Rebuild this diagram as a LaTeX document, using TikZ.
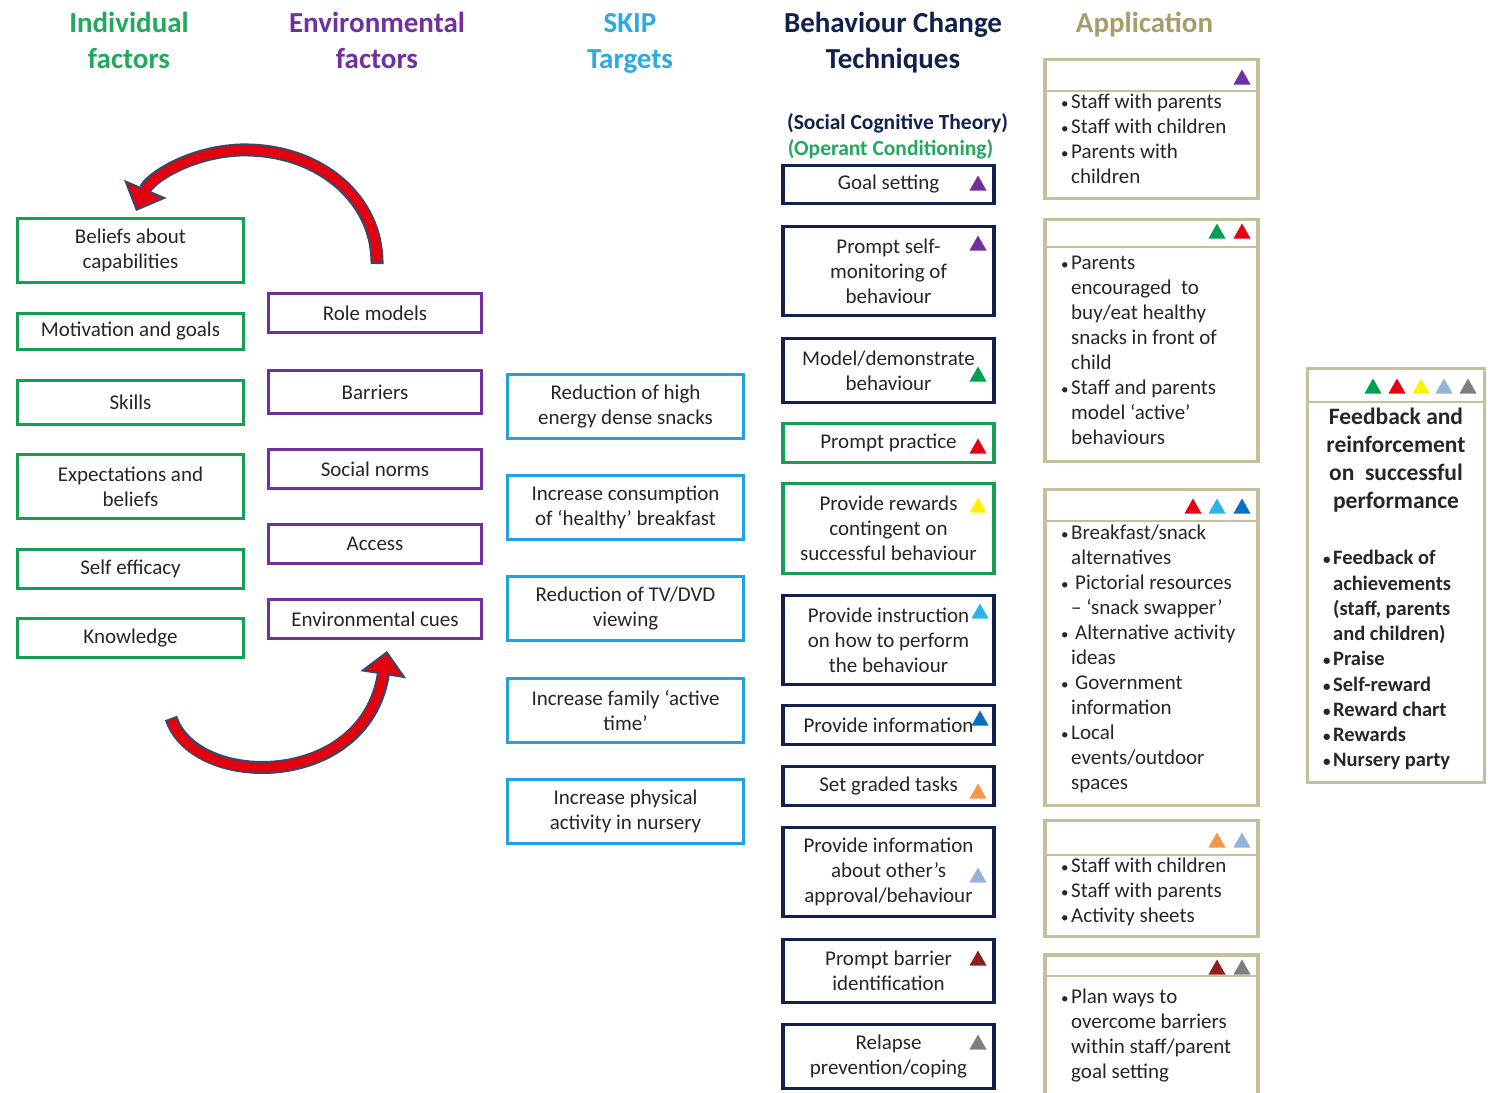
\documentclass[tikz,border=0pt]{standalone}
\usepackage{fontspec}
\setmainfont{Carlito}
\usetikzlibrary{arrows.meta}

% palette
\definecolor{cgreen}{HTML}{13A052}
\definecolor{cgreenhd}{HTML}{22A95E}
\definecolor{cpurple}{HTML}{7030A0}
\definecolor{cskip}{HTML}{22A2DC}
\definecolor{cskiphd}{HTML}{2CABE2}
\definecolor{cnavy}{HTML}{11204D}
\definecolor{ctan}{HTML}{C6BF9B}
\definecolor{ctanhd}{HTML}{A69E68}
\definecolor{txt}{HTML}{262626}
\definecolor{arrowred}{HTML}{E3000F}
\definecolor{arrowedge}{HTML}{3A4868}
% marker colours
\definecolor{tpurple}{HTML}{7030A0}
\definecolor{tgreen}{HTML}{00A050}
\definecolor{tred}{HTML}{E80012}
\definecolor{tyellow}{HTML}{FFF200}
\definecolor{tcyan}{HTML}{2DB4E8}
\definecolor{tblue}{HTML}{0A70BE}
\definecolor{torange}{HTML}{F79646}
\definecolor{tsteel}{HTML}{95B3D7}
\definecolor{tdark}{HTML}{8E2020}
\definecolor{tgray}{HTML}{7F7F7F}

\newcommand\txtfont{\fontsize{21pt}{25pt}\selectfont}
\newcommand\hdfont{\fontsize{29pt}{36pt}\selectfont\bfseries}
\newcommand\bl{\strut\makebox[12pt][l]{\hspace{2pt}{\fontsize{15pt}{15pt}\selectfont •}}}
\newcommand\cl{\strut\hspace*{12pt}}

\tikzset{
  box/.style={draw, rectangle, line width=3pt, fill=white, align=center,
    inner sep=2pt, font=\txtfont, text=txt},
  indbox/.style={box, draw=cgreen, minimum width=226pt},
  envbox/.style={box, draw=cpurple, minimum width=213pt, minimum height=39pt},
  skipbox/.style={box, draw=cskip, minimum width=236pt, minimum height=64pt},
  bctbox/.style={box, draw=cnavy, line width=3.5pt, minimum width=211pt},
  bctgreen/.style={bctbox, draw=cgreen},
  appbox/.style={draw=ctan, rectangle, line width=3.5pt, fill=white, minimum width=213pt},
  sepline/.style={draw=ctan, line width=2pt},
  hd/.style={anchor=north, align=center, font=\hdfont, inner sep=0pt},
  apptext/.style={anchor=north west, align=left, inner sep=0pt, font=\txtfont, text=txt},
  fbtext/.style={anchor=north west, align=left, inner sep=0pt,
    font=\fontsize{20.5pt}{25.25pt}\selectfont\bfseries, text=txt},
  tri/.pic={\fill[#1] (-8.5,7.5) -- (8.5,7.5) -- (0,-7.5) -- cycle;},
  cyclearrow/.style={arrowedge, line width=13pt,
    -{Triangle[width=46pt,length=24pt,fill=arrowred,line width=2pt]}},
  cyclefill/.style={arrowred, line width=9pt, shorten >=21pt, shorten <=2pt},
}

\begin{document}
\begin{tikzpicture}[x=1pt,y=-1pt]
\useasboundingbox[fill=white] (0,0) rectangle (1488,1092);

% column headings
\node[hd, text=cgreenhd] (hInd) at (129,7) {\strut Individual\\factors};
\node[hd, text=cpurple] (hEnv) at (377,7) {\strut Environmental\\factors};
\node[hd, text=cskiphd] (hSkip) at (630,7) {\strut SKIP\\Targets};
\node[hd, text=cnavy] (hBct) at (893,7) {\strut Behaviour Change\\Techniques};
\node[hd, text=ctanhd] (hApp) at (1144.5,7) {\strut Application};
\node[anchor=base, inner sep=0pt, text=cnavy, font=\fontsize{21.5pt}{27pt}\selectfont\bfseries]
  (sct) at (897.5,129) {(Social Cognitive Theory)};
\node[anchor=base, inner sep=0pt, text=cgreenhd, font=\fontsize{21.5pt}{27pt}\selectfont\bfseries]
  (oc) at (890.5,155.5) {(Operant Conditioning)};

% individual factors
\node[indbox, minimum height=64pt] (i1) at (130.5,250.5) {Beliefs about\\capabilities};
\node[indbox, minimum height=36pt] (i2) at (130.5,331.5) {Motivation and goals};
\node[indbox, minimum height=44pt] (i3) at (130.5,402.5) {Skills};
\node[indbox, minimum height=64pt] (i4) at (130.5,486.5) {Expectations and\\beliefs};
\node[indbox, minimum height=39pt] (i5) at (130.5,569) {Self efficacy};
\node[indbox, minimum height=39pt] (i6) at (130.5,638) {Knowledge};

% environmental factors
\node[envbox] (e1) at (375,313) {Role models};
\node[envbox, minimum height=43pt] (e2) at (375,392) {Barriers};
\node[envbox] (e3) at (375,469) {Social norms};
\node[envbox] (e4) at (375,544) {Access};
\node[envbox] (e5) at (375,619) {Environmental cues};

% SKIP targets
\node[skipbox] (s1) at (625.5,406.5) {Reduction of high\\energy dense snacks};
\node[skipbox] (s2) at (625.5,507.5) {Increase consumption\\of ‘healthy’ breakfast};
\node[skipbox] (s3) at (625.5,608.5) {Reduction of TV/DVD\\viewing};
\node[skipbox] (s4) at (625.5,710) {Increase family ‘active\\time’};
\node[skipbox] (s5) at (625.5,811.5) {Increase physical\\activity in nursery};

% behaviour change techniques
\node[bctbox, minimum height=38pt] (b1) at (888.5,184.5) {Goal setting};
\node[bctbox, minimum height=89pt] (b2) at (888.5,271) {Prompt self-\\monitoring of\\behaviour};
\node[bctbox, minimum height=64pt] (b3) at (888.5,370.5) {Model/demonstrate\\behaviour};
\node[bctgreen, minimum height=39pt] (b4) at (888.5,443) {Prompt practice};
\node[bctgreen, minimum height=90pt] (b5) at (888.5,528.5) {Provide rewards\\contingent on\\successful behaviour};
\node[bctbox, minimum height=89pt] (b6) at (888.5,640) {Provide instruction\\on how to perform\\the behaviour};
\node[bctbox, minimum height=39pt] (b7) at (888.5,725) {Provide information};
\node[bctbox, minimum height=39pt] (b8) at (888.5,786) {Set graded tasks};
\node[bctbox, minimum height=89pt] (b9) at (888.5,872) {Provide information\\about other’s\\approval/behaviour};
\node[bctbox, minimum height=63pt] (b10) at (888.5,971) {Prompt barrier\\identification};
\node[bctbox, minimum height=64pt] (b11) at (888.5,1056.5) {Relapse\\prevention/coping};

% technique markers
\pic at (978,183) {tri=tpurple};
\pic at (978,243) {tri=tpurple};
\pic at (978,374) {tri=tgreen};
\pic at (978,446) {tri=tred};
\pic at (978,505) {tri=tyellow};
\pic at (980,611) {tri=tcyan};
\pic at (980,718) {tri=tblue};
\pic at (978,791) {tri=torange};
\pic at (978,875) {tri=tsteel};
\pic at (978,958) {tri=tdark};
\pic at (978,1042) {tri=tgray};

% application boxes
\node[appbox, minimum height=139pt] (a1) at (1151.5,129) {};
\node[appbox, minimum height=242pt] (a2) at (1151.5,340.5) {};
\node[appbox, minimum height=316pt] (a3) at (1151.5,647.5) {};
\node[appbox, minimum height=116pt] (a4) at (1151.5,878.5) {};
\node[appbox, minimum height=144pt] (a5) at (1151.5,1027) {};
\node[appbox, minimum width=177pt, minimum height=414pt] (fb) at (1396,575.5) {};

\coordinate (r1) at (1151.5,91);
\coordinate (r2) at (1151.5,247);
\coordinate (r3) at (1151.5,521);
\coordinate (r4) at (1151.5,855);
\coordinate (r5) at (1151.5,976);
\coordinate (rf) at (1396,402);
\draw[sepline] (r1 -| a1.west) -- (r1 -| a1.east);
\draw[sepline] (r2 -| a2.west) -- (r2 -| a2.east);
\draw[sepline] (r3 -| a3.west) -- (r3 -| a3.east);
\draw[sepline] (r4 -| a4.west) -- (r4 -| a4.east);
\draw[sepline] (r5 -| a5.west) -- (r5 -| a5.east);
\draw[sepline] (rf -| fb.west) -- (rf -| fb.east);

% application markers
\pic at (1242,77) {tri=tpurple};
\pic at (1217,231) {tri=tgreen};
\pic at (1242,231) {tri=tred};
\pic at (1193,506) {tri=tred};
\pic at (1217,506) {tri=tcyan};
\pic at (1242,506) {tri=tblue};
\pic at (1217,840) {tri=torange};
\pic at (1242,840) {tri=tsteel};
\pic at (1217,967) {tri=tdark};
\pic at (1242,967) {tri=tgray};
\pic at (1373,386) {tri=tgreen};
\pic at (1397,386) {tri=tred};
\pic at (1421,386) {tri=tyellow};
\pic at (1444,386) {tri=tsteel};
\pic at (1468,386) {tri=tgray};

% application texts
\node[apptext] (t1) at (1059,91) {\bl Staff with parents\\\bl Staff with children\\\bl Parents with\\\cl children};
\node[apptext] (t2) at (1059,252) {\bl Parents\\\cl encouraged\ \ to\\\cl buy/eat healthy\\\cl snacks in front of\\\cl child\\\bl Staff and parents\\\cl model ‘active’\\\cl behaviours};
\node[apptext] (t3) at (1059,522) {\bl Breakfast/snack\\\cl alternatives\\\bl\hspace{4pt}Pictorial resources\\\cl – ‘snack swapper’\\\bl\hspace{4pt}Alternative activity\\\cl ideas\\\bl\hspace{4pt}Government\\\cl information\\\bl Local\\\cl events/outdoor\\\cl spaces};
\node[apptext] (t4) at (1059,855) {\bl Staff with children\\\bl Staff with parents\\\bl Activity sheets};
\node[apptext] (t5) at (1059,986) {\bl Plan ways to\\\cl overcome barriers\\\cl within staff/parent\\\cl goal setting};

% feedback box texts
\node[anchor=north, align=center, inner sep=0pt, text=txt,
  font=\fontsize{23.5pt}{28pt}\selectfont\bfseries] (ft) at (1396,405)
  {\strut Feedback and\\reinforcement\\on\ \ successful\\performance};
\node[fbtext] (fl) at (1321,547) {\bl Feedback of\\\cl achievements\\\cl (staff, parents\\\cl and children)\\\bl Praise\\\bl Self-reward\\\bl Reward chart\\\bl Rewards\\\bl Nursery party};

% cycle arrows between the factor columns
\coordinate (ca1) at (377,264);
\coordinate (ca2) at (136,211);
\coordinate (cb1) at (171,718);
\coordinate (cb2) at (387,651);
\draw[cyclearrow] (ca1) .. controls (378,200) and (320,148) .. (240,150)
  .. controls (190,152) and (150,178) .. (ca2);
\draw[cyclefill] (ca1) .. controls (378,200) and (320,148) .. (240,150)
  .. controls (190,152) and (150,178) .. (ca2);
\draw[cyclearrow] (cb1) .. controls (195,790) and (365,790) .. (cb2);
\draw[cyclefill] (cb1) .. controls (195,790) and (365,790) .. (cb2);
\end{tikzpicture}
\end{document}
